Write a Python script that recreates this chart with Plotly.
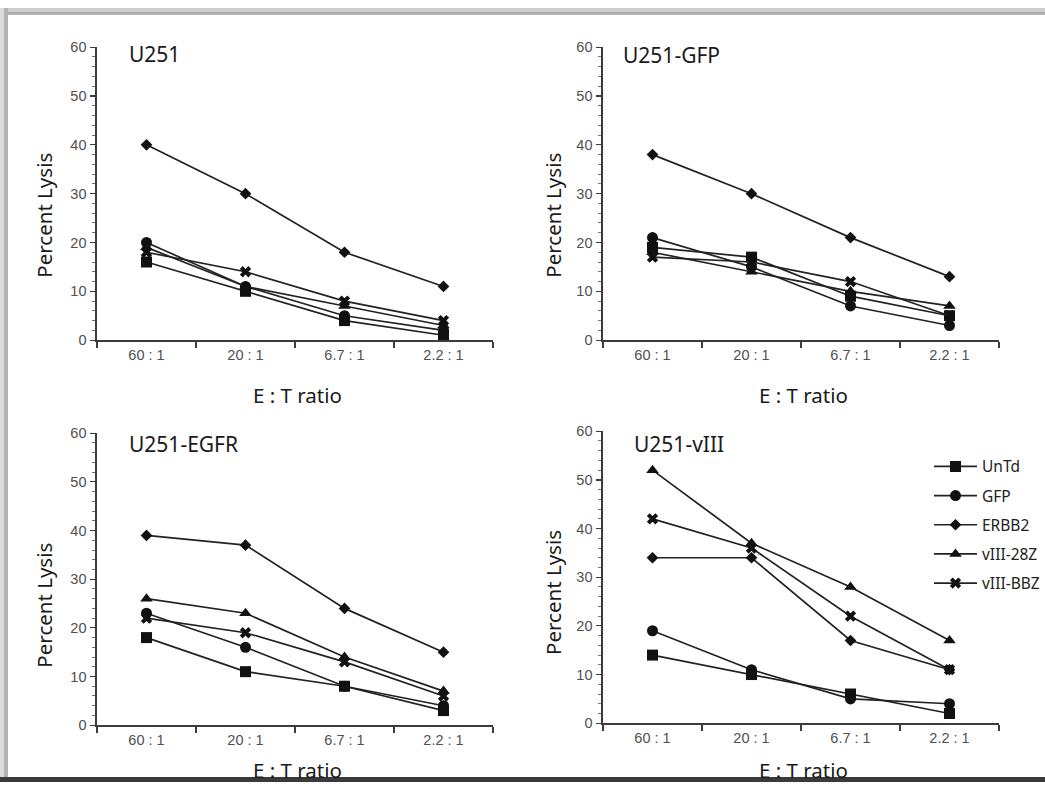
import plotly.graph_objects as go

W, H = 1045, 790

# ---------------- data ----------------
ratios = ["60 : 1", "20 : 1", "6.7 : 1", "2.2 : 1"]
series_names = ["UnTd", "GFP", "ERBB2", "vIII-28Z", "vIII-BBZ"]
series_symbols = ["square", "circle", "diamond", "triangle-up", "x"]
series_sizes = [11, 11, 9, 11, 10]
panel_titles = ["U251", "U251-GFP", "U251-EGFR", "U251-vIII"]

# U251
u251_untd = [16, 10, 4, 1]
u251_gfp = [20, 11, 5, 2]
u251_erbb2 = [40, 30, 18, 11]
u251_28z = [19, 11, 7, 3]
u251_bbz = [18, 14, 8, 4]

# U251-GFP
gfp_untd = [19, 17, 9, 5]
gfp_gfp = [21, 15, 7, 3]
gfp_erbb2 = [38, 30, 21, 13]
gfp_28z = [18, 14, 10, 7]
gfp_bbz = [17, 16, 12, 5]

# U251-EGFR
egfr_untd = [18, 11, 8, 3]
egfr_gfp = [23, 16, 8, 4]
egfr_erbb2 = [39, 37, 24, 15]
egfr_28z = [26, 23, 14, 7]
egfr_bbz = [22, 19, 13, 6]

# U251-vIII
viii_untd = [14, 10, 6, 2]
viii_gfp = [19, 11, 5, 4]
viii_erbb2 = [34, 34, 17, 11]
viii_28z = [52, 37, 28, 17]
viii_bbz = [42, 36, 22, 11]

panels_data = [
    [u251_untd, u251_gfp, u251_erbb2, u251_28z, u251_bbz],
    [gfp_untd, gfp_gfp, gfp_erbb2, gfp_28z, gfp_bbz],
    [egfr_untd, egfr_gfp, egfr_erbb2, egfr_28z, egfr_bbz],
    [viii_untd, viii_gfp, viii_erbb2, viii_28z, viii_bbz],
]

# ---------------- layout helpers (pixel -> paper) ----------------
def px(x):
    return x / W

def py(y):
    return 1 - y / H

# (x_left, x_right, y_top(60), y_bottom(0)) in pixels
boxes = [(97, 493, 40, 339), (603, 999, 40, 339), (97, 493, 434, 732), (603, 999, 432, 730)]
ytitle_pos = [(44, 212), (553, 212), (44, 610), (553, 597)]
xtitle_pos = [(297, 395), (803, 395), (297, 778), (803, 778)]
title_pos = [(127, 47), (621, 48), (127, 445), (632, 445)]

LINE = "#222222"
AXC = "#3c3c3c"
TICKF = dict(family="Liberation Sans, Arial, sans-serif", size=14.5, color="#505050")
LABF = dict(family="Noto Sans, Open Sans, sans-serif", size=20.5, color="#1a1a1a")

fig = go.Figure()

for p, data in enumerate(panels_data):
    ax = "" if p == 0 else str(p + 1)
    for s, vals in enumerate(data):
        fig.add_trace(go.Scatter(
            x=ratios, y=vals, mode="lines+markers",
            name=series_names[s], legendgroup=series_names[s],
            showlegend=(p == 3),
            line=dict(color=LINE, width=1.7),
            marker=dict(symbol=series_symbols[s], size=series_sizes[s], color="#111111",
                        line=dict(width=0)),
            cliponaxis=False,
            xaxis="x" + ax, yaxis="y" + ax,
        ))

layout = dict(
    width=W, height=H,
    margin=dict(l=0, r=0, t=0, b=0),
    paper_bgcolor="white", plot_bgcolor="white",
    showlegend=True,
    legend=dict(
        x=px(929), y=py(451), xanchor="left", yanchor="top",
        font=dict(family="Noto Sans, Open Sans, sans-serif", size=15.5, color="#222"),
        bgcolor="rgba(0,0,0,0)", tracegroupgap=6, itemwidth=43,
    ),
    annotations=[], shapes=[],
)

for p, (xl, xr, yt, yb) in enumerate(boxes):
    k = "" if p == 0 else str(p + 1)
    layout["xaxis" + k] = dict(
        domain=[px(xl), px(xr)], anchor="y" + k, type="category",
        range=[-0.5, 3.5], showline=True, linecolor=AXC, linewidth=1.6,
        ticks="outside", tickson="boundaries", ticklen=6, tickcolor=AXC, tickwidth=1.2,
        showgrid=False, zeroline=False, tickfont=TICKF, ticklabelstandoff=1,
        fixedrange=True,
    )
    layout["yaxis" + k] = dict(
        domain=[py(yb), py(yt)], anchor="x" + k,
        range=[0, 60], tickvals=[0, 10, 20, 30, 40, 50, 60],
        showline=True, linecolor=AXC, linewidth=1.6,
        ticks="outside", ticklen=5, tickcolor=AXC, tickwidth=1.2,
        minor=dict(dtick=2, ticks="outside", ticklen=3, tickcolor="#777", tickwidth=1, showgrid=False),
        showgrid=False, zeroline=False, tickfont=TICKF, ticklabelstandoff=1,
        fixedrange=True,
    )
    layout["annotations"].append(dict(
        text="Percent Lysis", x=px(ytitle_pos[p][0]), y=py(ytitle_pos[p][1]),
        xref="paper", yref="paper", showarrow=False, textangle=-90,
        font=LABF, xanchor="center", yanchor="middle"))
    layout["annotations"].append(dict(
        text="E : T ratio", x=px(xtitle_pos[p][0]), y=py(xtitle_pos[p][1]),
        xref="paper", yref="paper", showarrow=False,
        font=LABF, xanchor="center", yanchor="middle"))
    layout["annotations"].append(dict(
        text=panel_titles[p], x=px(title_pos[p][0]), y=py(title_pos[p][1]),
        xref="paper", yref="paper", showarrow=False,
        font=dict(family="Noto Sans, Open Sans, sans-serif", size=21, color="#1a1a1a"),
        xanchor="left", yanchor="middle"))

# decorative frame (scanned-figure border)
def rect(x0, y0, x1, y1, color):
    return dict(type="rect", xref="paper", yref="paper", x0=px(x0), x1=px(x1),
                y0=py(y1), y1=py(y0), fillcolor=color, line=dict(width=0), layer="above")

layout["shapes"] += [
    rect(0, 0, W, 4, "#cfcfcf"),
    rect(0, 4, W, 7, "#ababab"),
    rect(0, 0, 4, H, "#dcdcdc"),
    rect(4, 0, 8, H, "#b4b4b4"),
    rect(0, 785, W, H, "#3a3a3a"),
]

fig.update_layout(**layout)
fig.write_html(
    "out.html",
    config={"displayModeBar": False, "staticPlot": True},
    post_script=(
        "document.documentElement.style.margin='0';"
        "document.documentElement.style.padding='0';"
        "document.body.style.margin='0';document.body.style.padding='0';"
        "document.body.style.overflow='hidden';window.scrollTo(0,0);"
    ),
)
